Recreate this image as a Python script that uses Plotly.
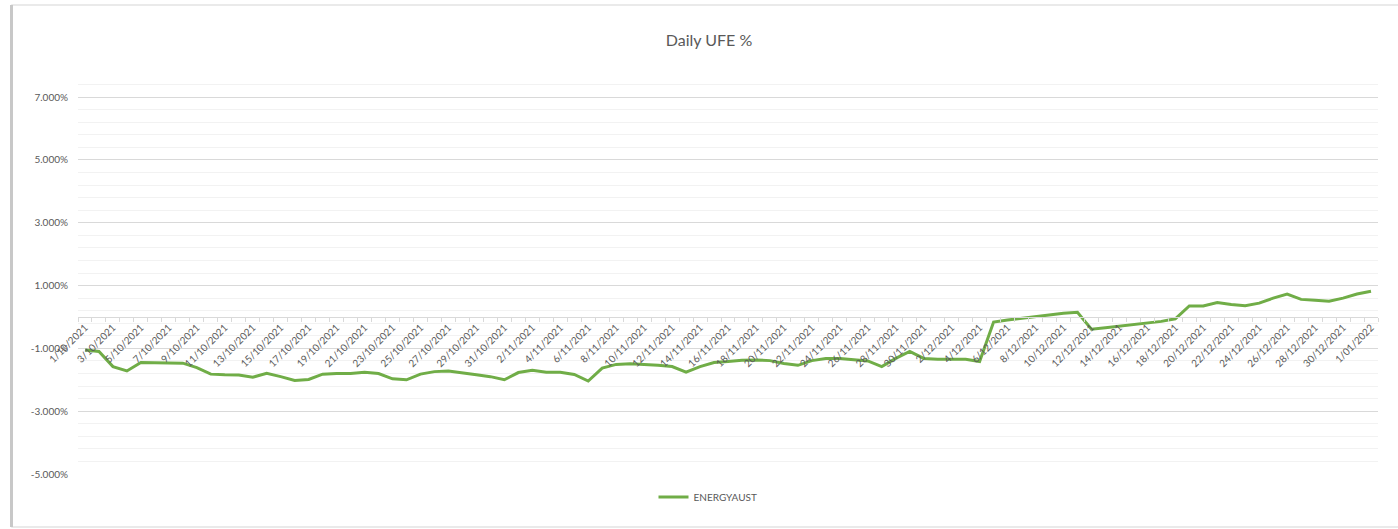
import pandas as pd
import plotly.graph_objects as go

# ---- data ----
dates = pd.date_range("2021-10-01", "2022-01-01", freq="D")
date_labels = [f"{d.day}/{d.month:02d}/{d.year}" for d in dates]

ufe_pct = [
    -1.05, -1.10, -1.58, -1.72, -1.45, -1.45, -1.47, -1.47, -1.61, -1.82,
    -1.84, -1.85, -1.92, -1.79, -1.90, -2.02, -1.99, -1.82, -1.80, -1.80,
    -1.76, -1.80, -1.97, -2.00, -1.82, -1.74, -1.72, -1.77, -1.84, -1.90,
    -2.00, -1.77, -1.70, -1.76, -1.76, -1.83, -2.04, -1.63, -1.51, -1.49,
    -1.51, -1.54, -1.58, -1.76, -1.58, -1.45, -1.42, -1.38, -1.37, -1.39,
    -1.48, -1.54, -1.39, -1.32, -1.32, -1.35, -1.40, -1.58, -1.32, -1.10,
    -1.32, -1.35, -1.35, -1.35, -1.42, -0.16, -0.10, -0.04, 0.01, 0.06,
    0.12, 0.15, -0.39, -0.34, -0.29, -0.25, -0.20, -0.14, -0.06, 0.35,
    0.35, 0.46, 0.40, 0.36, 0.44, 0.60, 0.73, 0.56, 0.53, 0.50,
    0.60, 0.73, 0.82,
]
series_name = "ENERGYAUST"
title_text = "Daily UFE %"

y_tick_vals = [-5, -3, -1, 1, 3, 5, 7]
y_tick_text = ["-5.000%", "-3.000%", "-1.000%", "1.000%", "3.000%", "5.000%", "7.000%"]

# ---- figure ----
n = len(ufe_pct)
x_idx = list(range(n))
label_idx = x_idx[::2]
label_txt = date_labels[::2]
boundaries = [i - 0.5 for i in range(n + 1)]

Y_MIN, Y_MAX = -5.0, 7.8
axis_pos = (0 - Y_MIN) / (Y_MAX - Y_MIN)

TXT = "#595959"
FONT = "Lato"

fig = go.Figure()
fig.add_trace(go.Scatter(
    x=x_idx, y=ufe_pct, mode="lines", name=series_name,
    line=dict(color="#70ad47", width=3),
))

minor_y = [Y_MIN + 0.4 * k for k in range(int(round((Y_MAX - Y_MIN) / 0.4)) + 1)]

fig.update_layout(
    width=1398, height=529,
    margin=dict(l=78, r=20, t=72, b=55),
    paper_bgcolor="white", plot_bgcolor="white",
    font=dict(family=FONT, color=TXT, size=10),
    title=dict(text=title_text, x=709 / 1398, xanchor="center", y=1 - 40 / 529,
               yanchor="middle", font=dict(size=16, color=TXT, family=FONT)),
    showlegend=True,
    legend=dict(orientation="h", x=(708 - 78) / 1300, xanchor="center",
                y=-23 / 402, yanchor="middle",
                font=dict(size=10, color=TXT, family=FONT), itemwidth=30,
                bgcolor="rgba(0,0,0,0)"),
    xaxis=dict(
        range=[-0.5, n - 0.5], anchor="free", position=axis_pos,
        tickmode="array", tickvals=label_idx, ticktext=label_txt,
        tickangle=-45, ticks="", showgrid=False, zeroline=False,
        showline=True, linecolor="#d9d9d9", linewidth=1,
        tickfont=dict(size=10, color=TXT, family=FONT),
        minor=dict(tickmode="array", tickvals=boundaries, ticks="outside",
                   ticklen=4, tickcolor="#d9d9d9", showgrid=False),
    ),
    xaxis2=dict(
        range=[-0.5, n - 0.5], overlaying="x", anchor="free", position=axis_pos,
        tickmode="array", tickvals=boundaries, ticks="inside", ticklen=4,
        tickcolor="#d9d9d9", showticklabels=False, showgrid=False,
        zeroline=False, showline=False,
    ),
    yaxis=dict(
        range=[Y_MIN, Y_MAX], tickmode="array", tickvals=y_tick_vals,
        ticktext=y_tick_text, showgrid=True, gridcolor="#d9d9d9", gridwidth=1,
        zeroline=False, showline=False, ticks="", ticklabelstandoff=9,
        tickfont=dict(size=10, color=TXT, family=FONT),
        minor=dict(tickmode="array", tickvals=minor_y, showgrid=True,
                   gridcolor="#f2f2f2", gridwidth=1, ticks=""),
    ),
)

# chart-area frame (Excel chart border with soft shadow on left)
px2x = lambda p: (p - 78) / 1300
py2y = lambda p: (474 - p) / 402
fig.add_shape(type="rect", xref="paper", yref="paper",
              x0=px2x(12), x1=px2x(1410), y0=py2y(527), y1=py2y(5),
              line=dict(color="#e3e3e3", width=1.5), layer="below")
fig.add_shape(type="line", xref="paper", yref="paper",
              x0=px2x(11.5), x1=px2x(11.5), y0=py2y(527), y1=py2y(5),
              line=dict(color="#c8c8c8", width=3), layer="below")

fig.write_html(
    "out.html",
    config={"displayModeBar": False},
    post_script="document.body.style.margin='0';document.body.style.overflow='hidden';",
)
